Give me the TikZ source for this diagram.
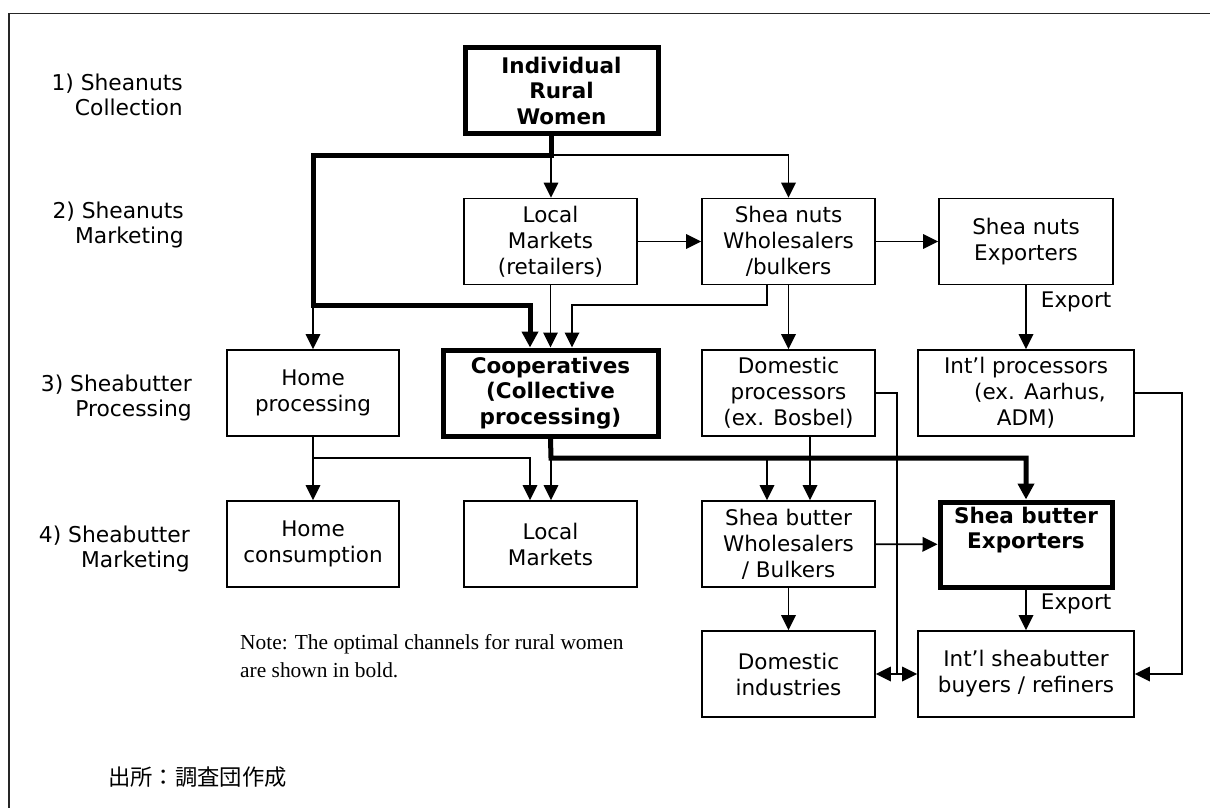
\documentclass[tikz,border=0pt]{standalone}
\usepackage{fontspec}
\setmainfont{DejaVu Sans}
\newfontfamily\notefont{Liberation Serif}
\newfontfamily\jpfont{Noto Sans CJK JP}
\usetikzlibrary{arrows.meta}

\tikzset{
  flowbox/.style={draw, line width=1.8pt, minimum width=173pt, minimum height=86pt,
    inner sep=0pt, align=center, font=\fontsize{21.5}{26}\selectfont},
  keybox/.style={flowbox, line width=5pt, font=\fontsize{21.5}{25.5}\selectfont\bfseries},
  stage/.style={anchor=east, align=right, inner sep=0pt, font=\fontsize{21.8}{25.5}\selectfont},
  chanline/.style={line width=1.8pt},
  chan/.style={chanline, -{Triangle[length=15pt,width=14.5pt]}},
  boldchan/.style={line width=5pt, -{Triangle[length=16pt,width=16pt]}},
  exportlabel/.style={right=14pt, inner sep=0pt, font=\fontsize{21.5}{26}\selectfont},
}

\begin{document}
\begin{tikzpicture}[x=1pt,y=-1pt]
  % page and outer frame
  \useasboundingbox (0,0) rectangle (1210,808);
  \draw[black!85, line width=1.5pt] (9,830) -- (9,13.5) -- (1230,13.5);

  % stages
  \node[stage] (s1) at (183,95) {1) Sheanuts\\Collection};
  \node[stage] (s2) at (184,225) {2) Sheanuts\\Marketing};
  \node[stage] (s3) at (192,398) {3) Sheabutter\\Processing};
  \node[stage] (s4) at (190,549) {4) Sheabutter\\Marketing};

  % actors
  \node[keybox, minimum width=193pt, minimum height=85pt] (women) at (561.5,90.5) {Individual\\Rural\\Women};
  \node[flowbox] (nlocal) at (550.5,241.5) {Local\\Markets\\(retailers)};
  \node[flowbox] (nwhole) at (788.5,241.5) {Shea nuts\\Wholesalers\\/bulkers};
  \node[flowbox, minimum width=174pt] (nexp) at (1026,241.5) {Shea nuts\\Exporters};
  \node[flowbox, minimum width=172pt] (hproc) at (313,393) {Home\\processing};
  \node[keybox, minimum width=215pt] (coop) at (550.5,393) {Cooperatives\\(Collective\\processing)};
  \node[flowbox] (dproc) at (788.5,393) {Domestic\\processors\\(ex. Bosbel)};
  \node[flowbox, minimum width=216pt] (iproc) at (1026,393) {Int’l processors\\\hspace*{28pt}(ex. Aarhus,\\ADM)};
  \node[flowbox, minimum width=172pt] (hcons) at (313,544) {Home\\consumption};
  \node[flowbox] (blocal) at (550.5,544) {Local\\Markets};
  \node[flowbox] (bwhole) at (788.5,544) {Shea butter\\Wholesalers\\/ Bulkers};
  \node[keybox, minimum width=172pt, minimum height=85pt] (bexp) at (1026,544.5) {Shea butter\\Exporters\\\strut};
  \node[flowbox] (dind) at (788.5,674) {Domestic\\industries};
  \node[flowbox, minimum width=216pt] (ibuy) at (1026,674) {Int’l sheabutter\\buyers / refiners};

  % notes
  \node[anchor=west, align=left, inner sep=0pt, font=\notefont\fontsize{21.4}{28}\selectfont] (note) at (240,656)
    {Note: The optimal channels for rural women\\are shown in bold.};
  \node[anchor=west, inner sep=0pt, font=\jpfont\fontsize{22.3}{26}\selectfont] (src) at (108,777) {出所：調査団作成};

  % branching points
  \coordinate (wsplit) at (551,155);
  \coordinate (hsplit) at (313,305);
  \coordinate (cin1) at (530,305);
  \coordinate (wback) at (767,305);
  \coordinate (cin3) at (572,305);
  \coordinate (hjoin) at (313,458);
  \coordinate (lin1) at (530,458);
  \coordinate (cjoin) at (551,458);
  \coordinate (bin1) at (767,458);
  \coordinate (bin2) at (810,458);
  \coordinate (dside) at (897,674);
  \coordinate (iside) at (1182,674);

  % sheanut channels
  \draw[chan] (wsplit) -- (wsplit |- nlocal.north);
  \draw[chan] (wsplit) -| (nwhole.north);
  \draw[chan] (hsplit) -- (hproc.north);
  \draw[chan] (nlocal) -- (nwhole);
  \draw[chan] (nwhole) -- (nexp);
  \draw[chan] (nlocal) -- (coop);
  \draw[chan] (nwhole.south -| wback) -- (wback) -- (cin3) -- (coop.north -| cin3);
  \draw[chan] (nwhole) -- (dproc);
  \draw[chan] (nexp) -- node[pos=0.26, exportlabel] (exp1) {Export} (iproc);

  % sheabutter channels
  \draw[chan] (hproc) -- (hcons);
  \draw[chan] (hjoin) -- (lin1) -- (blocal.north -| lin1);
  \draw[chan] (cjoin) -- (blocal.north -| cjoin);
  \draw[chan] (bin1) -- (bwhole.north -| bin1);
  \draw[chan] (dproc.south -| bin2) -- (bwhole.north -| bin2);
  \draw[chanline] (dproc.east) -| (dside);
  \draw[chan] (dside) -- (dind.east |- dside);
  \draw[chan] (dside) -- (ibuy.west |- dside);
  \draw[chan] (iproc.east) -| (iside) -- (ibuy.east |- iside);
  \draw[chan] (bwhole) -- (bexp);
  \draw[chan] (bwhole) -- (dind);
  \draw[chan] (bexp) -- node[pos=0.36, exportlabel] (exp2) {Export} (ibuy);

  % optimal channels in bold
  \draw[boldchan] (women.south -| wsplit) -- (wsplit) -| (hsplit) -- (cin1) -- (coop.north -| cin1);
  \draw[boldchan] (coop.south) -- (cjoin) -| (bexp.north);
\end{tikzpicture}
\end{document}
